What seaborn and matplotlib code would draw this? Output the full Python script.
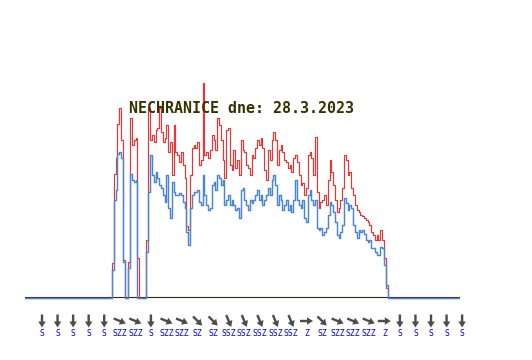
import numpy as np
import pandas as pd
import matplotlib
matplotlib.use("Agg")
import matplotlib.pyplot as plt
import seaborn as sns
from matplotlib.patches import FancyArrow

title = "NECHRANICE dne: 28.3.2023"

# samples every 0.1 h starting at 4.8 h (wind speed, m/s)
start_hour = 4.8
step_hour = 0.1
gust = [1.75, 6.2, 7.0, 8.7, 9.5, 7.9, 1.9, 0, 0, 1.8,
        9.0, 7.65, 7.9, 8.0, 2.0, 0, 0, 0, 0, 2.9,
        9.5, 7.9, 8.15, 7.8, 8.4, 8.5, 9.5, 8.3, 7.8, 8.0,
        8.65, 7.3, 7.8, 6.15, 8.65, 7.3, 7.15, 6.8, 7.3, 6.65,
        6.0, 3.6, 3.4, 6.15, 7.5, 7.65, 7.5, 7.8, 6.65, 6.9,
        10.75, 7.15, 7.3, 7.0, 7.4, 8.15, 7.9, 7.4, 9.0, 8.65,
        7.9, 6.9, 6.0, 8.4, 8.5, 6.65, 6.4, 7.4, 6.5, 6.9,
        6.15, 7.9, 7.4, 7.3, 6.65, 6.5, 6.15, 7.15, 7.0, 7.5,
        7.9, 7.65, 8.0, 7.5, 6.4, 5.9, 7.4, 6.9, 7.9, 8.3,
        7.9, 6.65, 7.4, 7.65, 7.3, 6.9, 6.8, 6.5, 6.65, 6.3,
        7.0, 7.15, 6.8, 6.15, 5.65, 5.75, 5.15, 5.5, 7.15, 7.3,
        7.0, 6.15, 8.05, 5.3, 4.5, 4.8, 4.9, 5.15, 4.65, 5.9,
        6.9, 6.3, 5.65, 4.9, 4.3, 4.5, 4.9, 5.5, 7.15, 6.9,
        6.15, 6.3, 5.5, 5.15, 4.65, 4.4, 4.3, 4.15, 4.1, 4.0,
        3.9, 3.8, 3.65, 3.3, 3.15, 2.9, 3.15, 2.9, 3.4, 2.9,
        2.0, 0.5]
avg = [1.4, 4.9, 5.4, 7.2, 7.3, 7.0, 1.8, 0, 0, 1.5,
       6.2, 5.9, 5.8, 5.9, 0, 0, 0, 0, 0, 2.3,
       5.3, 7.15, 6.15, 5.8, 6.3, 6.0, 5.65, 5.5, 5.15, 4.8,
       6.15, 4.5, 4.0, 5.8, 5.3, 5.15, 5.15, 5.25, 5.15, 4.8,
       4.5, 3.3, 2.65, 4.5, 5.15, 5.3, 5.3, 5.4, 4.8, 4.65,
       6.15, 5.15, 4.65, 4.4, 4.5, 5.65, 5.8, 5.4, 6.15, 6.0,
       5.65, 5.9, 4.65, 4.9, 5.15, 4.65, 4.9, 4.65, 4.4, 4.5,
       4.0, 5.4, 5.5, 4.9, 4.65, 4.4, 4.9, 4.75, 4.9, 5.15,
       5.4, 4.9, 5.15, 4.65, 4.9, 5.15, 5.5, 5.15, 5.9, 6.15,
       5.65, 4.65, 5.15, 4.9, 4.4, 4.65, 4.9, 4.4, 4.65, 4.3,
       4.9, 5.9, 4.9, 4.65, 4.5, 4.9, 4.0, 3.8, 5.15, 5.4,
       4.9, 4.65, 4.9, 3.5, 3.4, 3.5, 3.15, 3.3, 3.5, 4.15,
       4.8, 4.65, 4.3, 3.8, 3.15, 3.0, 3.3, 3.65, 5.0, 4.75,
       4.4, 4.65, 4.5, 3.65, 3.3, 3.0, 3.4, 3.3, 3.4, 3.2,
       2.9, 2.8, 2.9, 2.5, 2.5, 2.3, 2.15, 2.15, 2.55, 2.5,
       1.65, 0.65]

wind_dir = ["S", "S", "S", "S", "S", "SZZ", "SZZ", "S", "SZZ", "SZZ",
            "SZ", "SZ", "SSZ", "SSZ", "SSZ", "SSZ", "SSZ", "Z", "SZ", "SZZ",
            "SZZ", "SZZ", "Z", "S", "S", "S", "S", "S"]
dir_angle = {"Z": 0.0, "SZZ": 22.5, "SZ": 45.0, "SSZ": 67.5, "S": 90.0}

t = start_hour + step_hour * np.arange(len(gust))
hours = np.concatenate([[0.0], t, [t[-1] + step_hour, 24.0]])
df = pd.DataFrame({
    "hour": hours,
    "gust": [0.0] + gust + [0.0, 0.0],
    "avg": [0.0] + avg + [0.0, 0.0],
})

sns.set_style("white")
W, H = 532, 360
fig = plt.figure(figsize=(W / 100, H / 100), dpi=100)
fig.patch.set_facecolor("white")

px_per_unit = 20.0
ax = fig.add_axes([25 / W, (H - 300) / H, 435 / W, 240 / H])
ax.set_xlim(0, 24)
ax.set_ylim(-0.1, 240 / px_per_unit - 0.1)
ax.set_axis_off()
ax.axhline(0.07, color="#2b2b10", lw=0.8, zorder=1)
sns.lineplot(data=df, x="hour", y="gust", ax=ax, color="#f03232", lw=0.85,
             drawstyle="steps-post", estimator=None, zorder=2)
sns.lineplot(data=df, x="hour", y="avg", ax=ax, color="#4a86d4", lw=1.05,
             drawstyle="steps-post", estimator=None, zorder=3)

oax = fig.add_axes([0, 0, 1, 1])
oax.set_xlim(0, W)
oax.set_ylim(H, 0)
oax.set_axis_off()
oax.patch.set_alpha(0)

oax.text(129, 113, title, ha="left", va="baseline", family="DejaVu Sans Mono",
         fontsize=10.8, fontweight="bold", color="#333300")

for i, d in enumerate(wind_dir):
    cx = 42 + i * 15.56
    cy = 321
    a = np.radians(dir_angle[d])
    L = 13
    dx, dy = L * np.cos(a), L * np.sin(a)
    oax.add_patch(FancyArrow(cx - dx / 2, cy - dy / 2, dx, dy, width=2.4,
                             head_width=7.5, head_length=6,
                             length_includes_head=True, color="#4d4d4d", lw=0))
    oax.text(cx, 336, d, ha="center", va="baseline", family="DejaVu Sans Mono",
             fontsize=5.9, color="#0000ff")

fig.savefig("out.png", dpi=100)
